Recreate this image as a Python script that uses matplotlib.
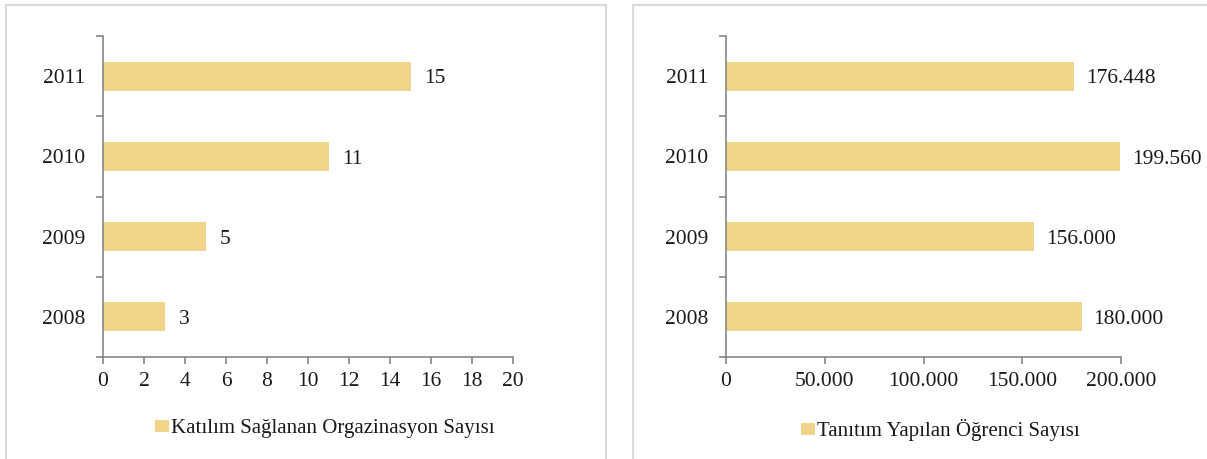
import matplotlib

matplotlib.use("Agg")

import matplotlib.pyplot as plt
from matplotlib.patches import Rectangle
from matplotlib.ticker import FuncFormatter, MultipleLocator

plt.rcParams["font.family"] = ["Liberation Serif", "DejaVu Serif"]

years = ["2008", "2009", "2010", "2011"]
organizations = [3, 5, 11, 15]
students = [180000, 156000, 199560, 176448]
label_org = "Katılım Sağlanan Orgazinasyon Sayısı"
label_students = "Tanıtım Yapılan Öğrenci Sayısı"

bar_color = "#F0D48A"
spine_color = "#868686"
border_color = "#D9D9D9"
text_color = "#1A1A1A"

W, H = 1207, 459


def _tr_thousands(v, _p=None):
    return f"{v:,.0f}".replace(",", ".")


fig = plt.figure(figsize=(W / 100, H / 100), dpi=100)
fig.patch.set_facecolor("white")

# panel frames (light gray, like the spreadsheet chart areas)
fig.add_artist(Rectangle((6 / W, -0.1), 600 / W, 1.1 - 5 / H,
                         transform=fig.transFigure, fill=False,
                         edgecolor=border_color, linewidth=1.5))
fig.add_artist(Rectangle((633 / W, -0.1), 0.6, 1.1 - 5 / H,
                         transform=fig.transFigure, fill=False,
                         edgecolor=border_color, linewidth=1.5))

ax_top = 36
ax_bot = 357
ax_l = fig.add_axes([103 / W, 1 - ax_bot / H, 410 / W, (ax_bot - ax_top) / H])
ax_r = fig.add_axes([726 / W, 1 - ax_bot / H, 395 / W, (ax_bot - ax_top) / H])

panels = (
    (ax_l, organizations, label_org, 20, 2, lambda v, _p=None: f"{v:g}", 10,
     (325 / W, 1 - 429 / H)),
    (ax_r, students, label_students, 200000, 50000, _tr_thousands, 8.5,
     (940 / W, 1 - 430 / H)),
)

for ax, values, label, xmax, step, fmt, pad, leg_pos in panels:
    ypos = list(range(len(years)))
    bars = ax.barh(ypos, values, height=0.36, color=bar_color,
                   label=label, zorder=2)
    anns = ax.bar_label(bars, labels=[fmt(v) for v in values], padding=pad,
                        fontsize=15.5, color=text_color)
    for a in anns:
        a.xyann = (pad, -2)  # nudge down to sit on the bar centre
    ax.set_xlim(0, xmax)
    ax.set_ylim(-0.5, len(years) - 0.5)
    ax.xaxis.set_major_locator(MultipleLocator(step))
    ax.xaxis.set_major_formatter(FuncFormatter(fmt))
    ax.set_yticks(ypos)
    ax.set_yticklabels(years)
    ax.set_yticks([i - 0.5 for i in range(len(years) + 1)], minor=True)
    ax.tick_params(axis="y", which="major", length=0, pad=13,
                   labelsize=15.5, labelcolor=text_color)
    ax.tick_params(axis="y", which="minor", length=5, width=1.2,
                   color=spine_color)
    ax.tick_params(axis="x", length=5, width=1.2, color=spine_color,
                   pad=6, labelsize=15.5, labelcolor=text_color)
    for side in ("top", "right"):
        ax.spines[side].set_visible(False)
    for side in ("left", "bottom"):
        ax.spines[side].set_color(spine_color)
        ax.spines[side].set_linewidth(1.2)
    ax.legend(loc="center", bbox_to_anchor=leg_pos,
              bbox_transform=fig.transFigure, frameon=False, fontsize=15,
              handlelength=0.67, handleheight=0.53, handletextpad=0.1,
              labelcolor=text_color)

fig.savefig("out.png", dpi=100, facecolor=fig.get_facecolor())
